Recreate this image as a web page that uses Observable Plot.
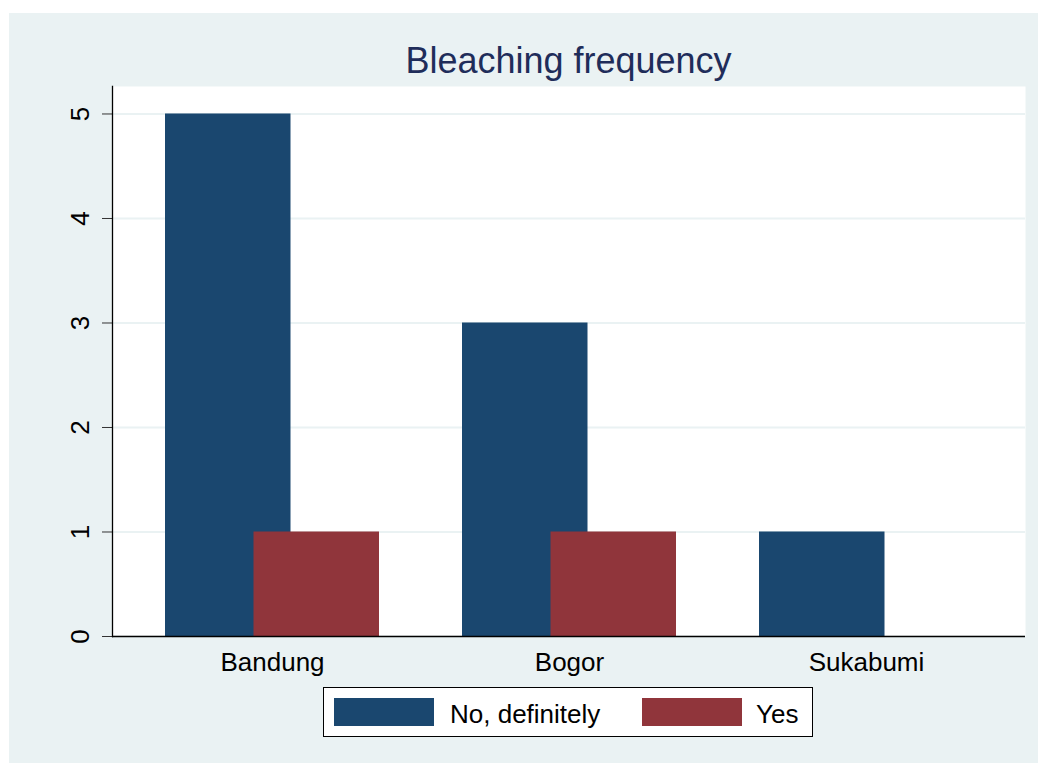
<!DOCTYPE html>
<html><head><meta charset="utf-8">
<script src="https://cdn.jsdelivr.net/npm/d3@7"></script>
<script src="https://cdn.jsdelivr.net/npm/@observablehq/plot@0.6"></script>
<style>
body{margin:0;background:#fff;font-family:"Liberation Sans",Arial,sans-serif;width:1038px;height:763px;overflow:hidden;position:relative;}
#panel{position:absolute;left:9px;top:13px;width:1029px;height:750px;background:#eaf2f3;}
#title{position:absolute;left:112px;top:42.5px;width:913px;text-align:center;font-size:36px;line-height:36px;color:#1f2d5a;white-space:nowrap;}
#chart{position:absolute;left:9px;top:76px;}
#legend{position:absolute;left:323px;top:687px;width:488px;height:48px;border:1px solid #000;background:#fff;}
.sw{position:absolute;top:10px;width:100px;height:28px;}
.lt{position:absolute;top:13px;font-size:26px;line-height:26px;color:#000;white-space:nowrap;}
</style></head>
<body>
<div id="panel"></div>
<div id="title"></div>
<div id="chart"></div>
<div id="legend"></div>
<script>
const title = "Bleaching frequency";
const cities = ["Bandung", "Bogor", "Sukabumi"];
const seriesNames = ["No, definitely", "Yes"];
const noValues = [5, 3, 1];
const yesValues = [1, 1, 0];
const yTicks = [0, 1, 2, 3, 4, 5];
const colors = ["#1a476f", "#90353b"];

const noData = cities.map((c, i) => ({city: c, value: noValues[i]}));
const yesData = cities.map((c, i) => ({city: c, value: yesValues[i]}));

document.getElementById("title").textContent = title;

// group band = 214.5px, each bar 126px, overlapping (bar gap -30%)
const groupW = 214.5, barW = 126;
const chart = Plot.plot({
  width: 1029,
  height: 610,
  marginLeft: 103,
  marginRight: 13,
  marginTop: 10,
  marginBottom: 50,
  style: {background: "transparent", fontFamily: "'Liberation Sans', Arial, sans-serif", fontSize: "26px", color: "#000"},
  x: {domain: cities, paddingInner: 0.28, paddingOuter: 0.172, label: null},
  y: {domain: [0, 5.263], label: null},
  marks: [
    Plot.frame({fill: "#fff", stroke: null}),
    Plot.gridY(yTicks, {stroke: "#eaf2f3", strokeOpacity: 1, strokeWidth: 2}),
    Plot.barY(noData, {x: "city", y: "value", fill: colors[0], insetRight: groupW - barW}),
    Plot.barY(yesData.filter(d => d.value > 0), {x: "city", y: "value", fill: colors[1], insetLeft: groupW - barW}),
    Plot.axisY(yTicks, {tickSize: 10, tickPadding: 14, tickRotate: -90, tickFormat: d3.format("d"), stroke: "#333"}),
    Plot.axisX({tickSize: 0, tickPadding: 16}),
    Plot.ruleY([0], {stroke: "#000", strokeWidth: 1.3}),
    Plot.frame({anchor: "left", stroke: "#000", strokeWidth: 1.3})
  ]
});
document.getElementById("chart").appendChild(chart);

const legend = document.getElementById("legend");
const swX = [10, 318], txtX = [126, 432];
seriesNames.forEach((s, i) => {
  const sw = document.createElement("div");
  sw.className = "sw"; sw.style.left = swX[i] + "px"; sw.style.background = colors[i];
  legend.appendChild(sw);
  const t = document.createElement("div");
  t.className = "lt"; t.style.left = txtX[i] + "px"; t.textContent = s;
  legend.appendChild(t);
});
</script>
</body></html>
